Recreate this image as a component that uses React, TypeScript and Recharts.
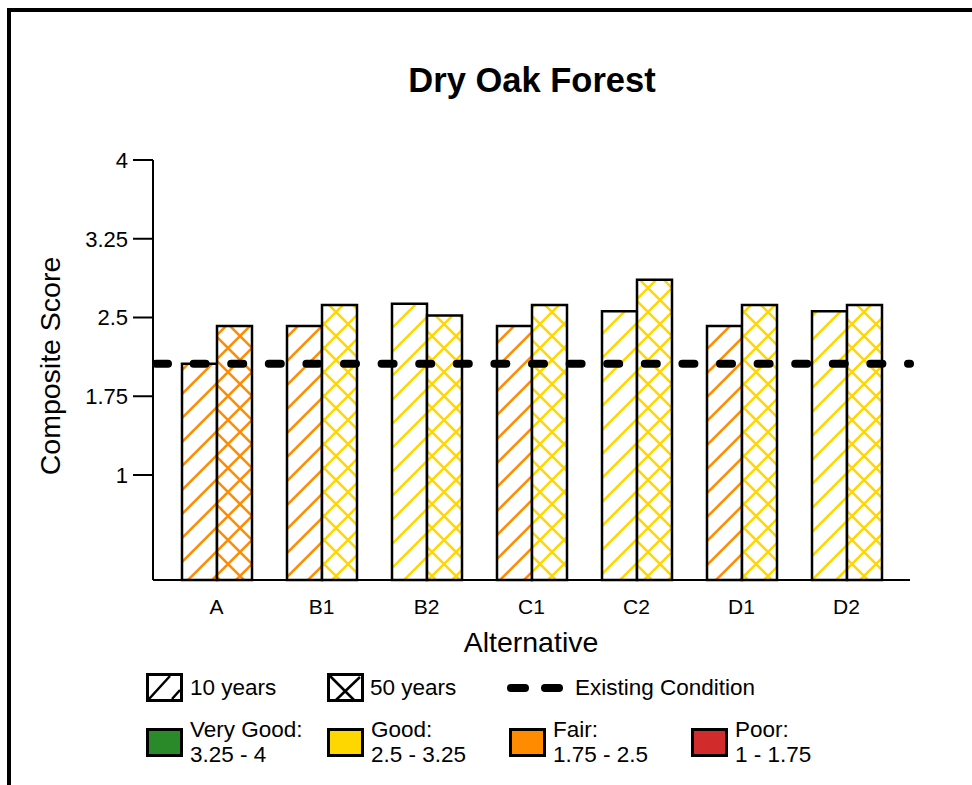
import { BarChart, Bar, Cell, XAxis, YAxis, ReferenceLine } from 'recharts';

const alternatives = ['A', 'B1', 'B2', 'C1', 'C2', 'D1', 'D2'];
const tenYears = [2.06, 2.42, 2.63, 2.42, 2.56, 2.42, 2.56];
const fiftyYears = [2.42, 2.62, 2.52, 2.62, 2.86, 2.62, 2.62];
const existingCondition = 2.06;
const yTicks = [1, 1.75, 2.5, 3.25, 4];

const ratingBands = [
    { name: 'Very Good:', range: '3.25 - 4', min: 3.25, color: '#2a8a2a', key: 'green' },
    { name: 'Good:', range: '2.5 - 3.25', min: 2.5, color: '#ffd700', key: 'yellow' },
    { name: 'Fair:', range: '1.75 - 2.5', min: 1.75, color: '#ff8c00', key: 'orange' },
    { name: 'Poor:', range: '1 - 1.75', min: 0, color: '#d22b2b', key: 'red' },
];

const data = alternatives.map((name, i) => ({ name, tenYears: tenYears[i], fiftyYears: fiftyYears[i] }));

const FONT = '"Liberation Sans", Arial, sans-serif';

const bandFor = (v: number) => ratingBands.find((b) => v >= b.min) || ratingBands[3];

// hatch patterns shared by the bars (url(#id) works across svgs on the page)
const Patterns = () => (
    <svg width={0} height={0} style={{ position: 'absolute' }}>
        <defs>
            {ratingBands.map((b) => (
                <pattern key={'d' + b.key} id={`diag-${b.key}`} width={24} height={24} patternUnits="userSpaceOnUse">
                    <rect width={24} height={24} fill="#fff" />
                    <path d="M0,24 L24,0 M-6,6 L6,-6 M18,30 L30,18" stroke={b.color} strokeWidth={2.5} />
                </pattern>
            ))}
            {ratingBands.map((b) => (
                <pattern key={'x' + b.key} id={`cross-${b.key}`} width={24} height={24} patternUnits="userSpaceOnUse">
                    <rect width={24} height={24} fill="#fff" />
                    <path
                        d="M0,24 L24,0 M-6,6 L6,-6 M18,30 L30,18 M0,0 L24,24 M-6,18 L6,30 M18,-6 L30,6"
                        stroke={b.color}
                        strokeWidth={2.5}
                    />
                </pattern>
            ))}
        </defs>
    </svg>
);

const text = (left: number, top: number, content: string, size: number, extra = {}) => (
    <div style={{ position: 'absolute', left, top, fontSize: size, fontFamily: FONT, color: '#000', whiteSpace: 'nowrap', lineHeight: 1, ...extra }}>
        {content}
    </div>
);

const Legend = () => (
    <>
        <svg style={{ position: 'absolute', left: 146, top: 673 }} width={37} height={29}>
            <rect x={1.5} y={1.5} width={34} height={26} fill="#fff" stroke="#000" strokeWidth={3} />
            <path d="M3,26 L24,3 M26,26 L34,17" stroke="#000" strokeWidth={2.5} />
        </svg>
        {text(190, 677, '10 years', 22.5)}
        <svg style={{ position: 'absolute', left: 327, top: 673 }} width={37} height={29}>
            <rect x={1.5} y={1.5} width={34} height={26} fill="#fff" stroke="#000" strokeWidth={3} />
            <path d="M3,3 L27,27 M9,27 L33,4" stroke="#000" strokeWidth={2.5} />
        </svg>
        {text(370, 677, '50 years', 22.5)}
        <svg style={{ position: 'absolute', left: 503, top: 680 }} width={62} height={16}>
            <line x1={8} y1={8} x2={56} y2={8} stroke="#000" strokeWidth={8} strokeLinecap="round" strokeDasharray="14 20" />
        </svg>
        {text(575, 677, 'Existing Condition', 22.5)}
        {ratingBands.map((b, i) => {
            const x = [146, 327, 509, 691][i];
            return (
                <div key={b.key}>
                    <div
                        style={{
                            position: 'absolute', left: x, top: 728, width: 31, height: 23,
                            background: b.color, border: '3px solid #000',
                        }}
                    />
                    {text(x + 44, 719, b.name, 22.5)}
                    {text(x + 44, 744, b.range, 22.5)}
                </div>
            );
        })}
    </>
);

const App = () => {
    return (
        <div style={{ position: 'absolute', left: 0, top: 0, width: 972, height: 785, background: '#fff', overflow: 'hidden' }}>
            <div style={{ position: 'absolute', left: 7, top: 8, width: 980, height: 800, borderLeft: '4px solid #000', borderTop: '4px solid #000' }} />
            <Patterns />
            {text(532, 80, 'Dry Oak Forest', 34.5, { fontWeight: 'bold', transform: 'translate(-50%, -50%)' })}
            {text(50, 366, 'Composite Score', 28.5, { transform: 'translate(-50%, -50%) rotate(-90deg)' })}
            {text(531, 642, 'Alternative', 28.5, { transform: 'translate(-50%, -50%)' })}
            <div style={{ position: 'absolute', left: 0, top: 0 }}>
                <BarChart
                    width={972}
                    height={640}
                    data={data}
                    margin={{ top: 160, right: 62, bottom: 30, left: 73 }}
                    barGap={0}
                    barSize={35}
                    style={{ fontFamily: FONT }}
                >
                    <XAxis
                        dataKey="name"
                        axisLine={{ stroke: '#000', strokeWidth: 2 }}
                        tickLine={false}
                        tickSize={0}
                        tickMargin={19}
                        padding={{ left: 11, right: 11 }}
                        tick={{ fill: '#000', fontSize: 21 }}
                        height={30}
                    />
                    <YAxis
                        domain={[0, 4]}
                        ticks={yTicks}
                        width={80}
                        axisLine={{ stroke: '#000', strokeWidth: 2 }}
                        tickLine={{ stroke: '#000', strokeWidth: 2 }}
                        tickSize={20}
                        tickMargin={5}
                        tick={{ fill: '#000', fontSize: 22 }}
                    />
                    <Bar dataKey="tenYears" stroke="#000" strokeWidth={2.5} isAnimationActive={false}>
                        {data.map((d) => (
                            <Cell key={'t' + d.name} fill={`url(#diag-${bandFor(d.tenYears).key})`} />
                        ))}
                    </Bar>
                    <Bar dataKey="fiftyYears" stroke="#000" strokeWidth={2.5} isAnimationActive={false}>
                        {data.map((d) => (
                            <Cell key={'f' + d.name} fill={`url(#cross-${bandFor(d.fiftyYears).key})`} />
                        ))}
                    </Bar>
                    <ReferenceLine
                        y={existingCondition}
                        stroke="#000"
                        strokeWidth={8}
                        strokeDasharray="12 25.6"
                        strokeDashoffset={-3}
                        strokeLinecap="round"
                    />
                </BarChart>
            </div>
            <Legend />
        </div>
    );
};

export default App;
